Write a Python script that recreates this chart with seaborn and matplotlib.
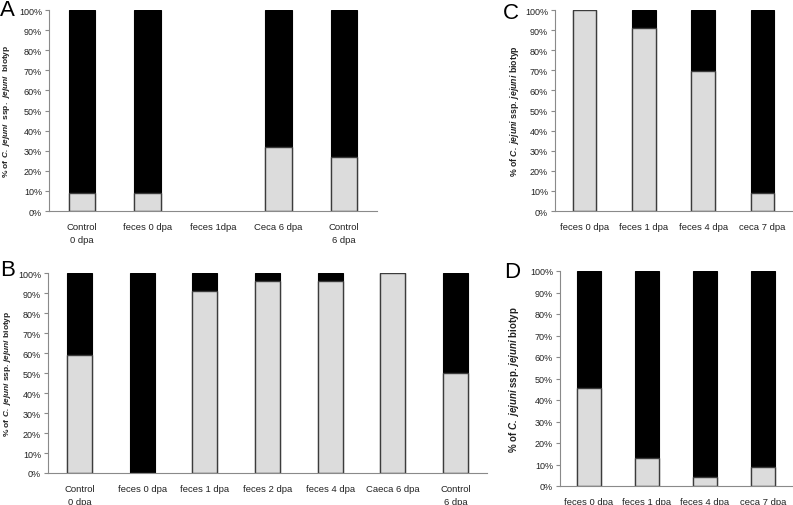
import matplotlib
matplotlib.use("Agg")
import matplotlib.pyplot as plt
import seaborn as sns
import numpy as np
import pandas as pd
from matplotlib.ticker import FuncFormatter

# ---------------- data ----------------
cats_a = ["Control\n0 dpa", "feces 0 dpa", "feces 1dpa", "Ceca 6 dpa", "Control\n6 dpa"]
gray_a = [9, 9, np.nan, 32, 27]

cats_b = ["Control\n0 dpa", "feces 0 dpa", "feces 1 dpa", "feces 2 dpa", "feces 4 dpa",
          "Caeca 6 dpa", "Control\n6 dpa"]
gray_b = [59, 0, 91, 96, 96, 100, 50]

cats_c = ["feces 0 dpa", "feces 1 dpa", "feces 4 dpa", "ceca 7 dpa"]
gray_c = [100, 91, 69.5, 9]

cats_d = ["feces 0 dpa", "feces 1 dpa", "feces 4 dpa", "ceca 7 dpa"]
gray_d = [45.5, 13, 4, 9]

panel_letters = ["A", "B", "C", "D"]
yticks = list(range(0, 101, 10))

# ---------------- style ----------------
sns.set_style("white")
plt.rcParams["font.family"] = ["Liberation Sans", "DejaVu Sans"]
plt.rcParams["mathtext.fontset"] = "custom"
plt.rcParams["mathtext.rm"] = "Liberation Sans"
plt.rcParams["mathtext.it"] = "Liberation Sans:italic"
plt.rcParams["mathtext.bf"] = "Liberation Sans:bold"
plt.rcParams["mathtext.bfit"] = "Liberation Sans:bold:italic"

W, H = 793, 506
fig = plt.figure(figsize=(W / 100, H / 100), dpi=100)

GRAY = "#dcdcdc"
EDGE = "#3c3c3c"
AXC = "#8a8a8a"

ylabel_wide = r"% of $\mathbfit{C.\ jejuni}$  ssp.  $\mathbfit{jejuni}$  biotyp"
ylabel = r"% of $\mathbfit{C.\ jejuni}$ ssp. $\mathbfit{jejuni}$ biotyp"


def px_axes(l, t, r, b):
    return fig.add_axes([l / W, 1 - b / H, (r - l) / W, (b - t) / H])


def draw_panel(ax, cats, gray, label_px, label_text, label_size, letter, letter_xy):
    total = [np.nan if np.isnan(g) else 100 for g in gray]
    df = pd.DataFrame({"cat": cats, "total": total, "gray": gray})
    sns.barplot(data=df, x="cat", y="total", order=cats, color="black",
                saturation=1, width=0.4, edgecolor="black", linewidth=0.8, ax=ax)
    sns.barplot(data=df, x="cat", y="gray", order=cats, color=GRAY,
                saturation=1, width=0.4, edgecolor=EDGE, linewidth=1.0, ax=ax)
    n = len(cats)
    ax.set_xlim(-0.5, n - 0.5)
    ax.set_ylim(0, 100)
    ax.set_yticks(yticks)
    ax.yaxis.set_major_formatter(FuncFormatter(lambda v, p: f"{int(v)}%"))
    ax.set_xticks(range(n))
    ax.set_xticklabels(cats, fontsize=6.8, color="#222222", linespacing=1.6)
    ax.set_xticks(np.arange(-0.5, n, 1.0), minor=True)
    ax.tick_params(axis="x", which="major", length=0, pad=8)
    ax.tick_params(axis="x", which="minor", length=4, width=0.8, color=AXC, direction="out")
    ax.tick_params(axis="y", which="major", length=3, width=0.8, color=AXC,
                   direction="out", labelsize=6.5, labelcolor="#222222", pad=2, left=True)
    for s in ["top", "right"]:
        ax.spines[s].set_visible(False)
    for s in ["left", "bottom"]:
        ax.spines[s].set_color(AXC)
        ax.spines[s].set_linewidth(0.8)
    ax.set_xlabel("")
    ax.set_ylabel(label_text, fontsize=label_size, fontweight="bold", color="#222222")
    pos = ax.get_position()
    lx = (label_px / W - pos.x0) / pos.width
    ax.yaxis.set_label_coords(lx, 0.5)
    fig.text(letter_xy[0] / W, 1 - letter_xy[1] / H, letter, fontsize=16,
             ha="left", va="baseline", color="black")


ax_a = px_axes(49, 11, 377, 212)
draw_panel(ax_a, cats_a, gray_a, 12, ylabel_wide, 6.0, panel_letters[0], (0, 16))

ax_c = px_axes(555, 11, 792, 212)
draw_panel(ax_c, cats_c, gray_c, 521, ylabel, 6.3, panel_letters[2], (503, 19))

ax_b = px_axes(48, 274, 487, 474)
draw_panel(ax_b, cats_b, gray_b, 13, ylabel, 6.0, panel_letters[1], (0, 276))

ax_d = px_axes(560, 272, 792, 487)
draw_panel(ax_d, cats_d, gray_d, 521, ylabel, 7.0, panel_letters[3], (504, 278))

fig.savefig("out.png", dpi=100)
